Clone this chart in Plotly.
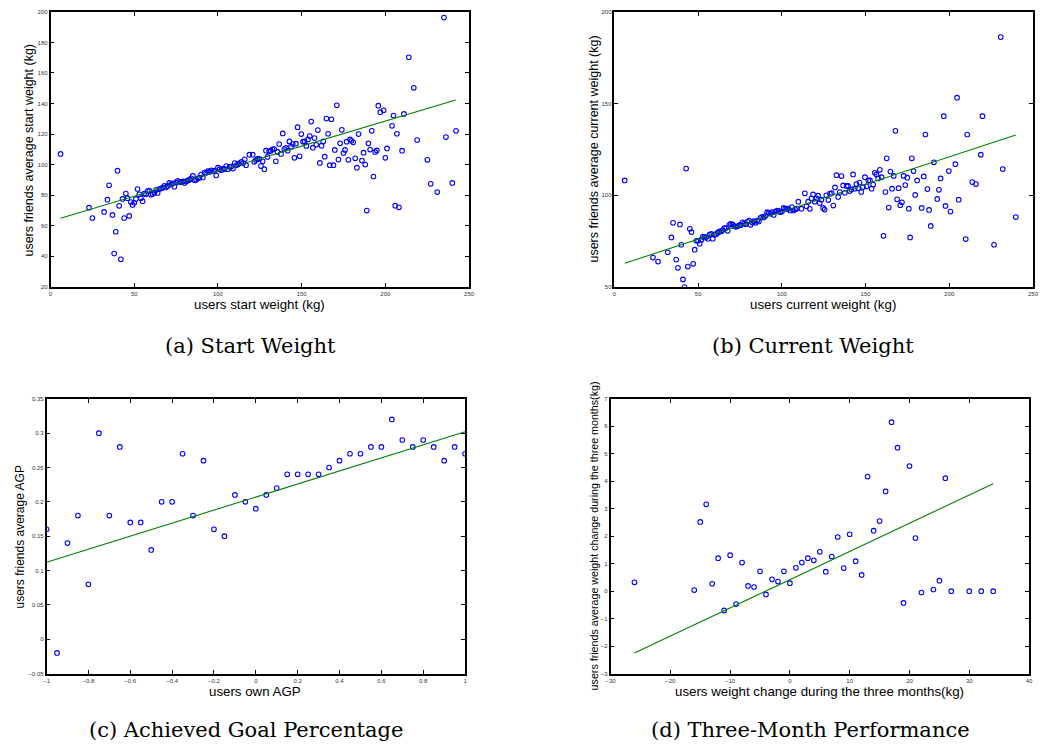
import plotly.graph_objects as go

# ---------------- (a) Start Weight ----------------
start_x = [6, 23, 25, 32, 34, 35, 37, 38, 39, 40, 41, 42, 43, 44, 45, 46, 47, 48, 49, 50,
           51, 52, 53, 54, 55, 56, 57, 58, 59, 60, 61, 62, 63, 64, 65, 66, 67, 68, 69, 70,
           71, 72, 73, 74, 75, 76, 77, 78, 79, 80, 81, 82, 83, 84, 85, 86, 87, 88, 89, 90,
           91, 92, 93, 94, 95, 96, 97, 98, 99, 100, 101, 102, 103, 104, 105, 106, 107, 108, 109, 110,
           111, 112, 113, 114, 115, 116, 116.8, 118.8, 120.8, 121.7, 122.7, 123.7, 124.7, 125.7, 126.7, 127.7,
           128.7, 129.6, 130.6, 131.6, 132.6, 133.6, 134.6, 135.6, 136.6, 137.7, 138.7, 139.7, 140.7, 141.7,
           142.7, 143.7, 144.7, 145.7, 146.6, 147.6, 148.8, 149.8, 150.8, 151.8, 152.8, 153.8, 154.8, 155.7,
           156.7, 157.7, 158.7, 159.7, 160.9, 161.9, 162.9, 163.8, 164.8, 165.8, 166.8, 167.8, 169, 169.8,
           171, 172, 173, 174, 175, 175.9, 176.9, 177.9, 178.9, 179.8, 180.8, 182, 183, 184, 186, 187, 188,
           188.9, 189.9, 190.9, 191.9, 192.9, 193.9, 194.9, 195.8, 197, 199, 200, 201, 204, 204.9, 205.9,
           206.9, 208.1, 210, 211.1, 214, 217, 219, 225.1, 227.1, 231, 235, 236.2, 240, 242.2]
start_y = [107, 71.8, 65, 69, 77, 86.4, 67, 41.7, 56, 96, 73, 38, 77.5, 65, 81, 78, 66.4, 75.5, 73.6, 75,
           77.5, 84, 80.5, 78, 76, 81, 80.7, 82.7, 83, 80.3, 80.7, 81.6, 83.3, 81.4, 84, 84.4, 84.8, 86, 85, 86,
           88, 87, 87.7, 85.5, 88.3, 89.4, 88.7, 88.5, 89, 88, 89, 89.6, 90, 91, 92.6, 89.8, 90, 91, 91.3, 93.5,
           91.6, 94.8, 94.6, 95.7, 95.2, 96.3, 95.9, 96, 92.9, 98, 97, 96.3, 97.4, 97, 99, 97, 98.5, 98.7, 97.4, 101,
           99.5, 100.3, 101, 101.8, 101, 103.5, 99.6, 106.5, 106.5, 101.8, 103, 103.7, 103.7, 99, 102.2, 97,
           109.1, 105, 108.7, 109.1, 110, 110.2, 102.2, 108.3, 113.5, 107, 120.4, 110.2, 110.9, 109.1,
           115.2, 111.7, 113.5, 104.4, 113.7, 124.5, 105.4, 120, 115, 115.2, 112.2, 116.5, 118.7, 128.2,
           111.1, 117.4, 113, 122.6, 101.1, 112.4, 115.2, 105.2, 130.2, 120.2, 99.6, 129.7, 99.6, 109.6,
           138.8, 103.3, 113.9, 122.8, 107.6, 109.6, 115, 103.1, 116.5, 115.6, 114.6, 104.1, 98, 120, 102.6, 107.8, 100,
           69.9, 113.9, 109.8, 122.1, 92.2, 108.3, 109.3, 138.6, 134.3, 135.6, 104.4, 110.6, 125.4, 132.1, 73.1,
           120.2, 72, 109.1, 133.2, 170.3, 150.3, 116.1, 103.1, 87.4, 82, 196.3, 118, 88, 122.1]
fit_start_x = [6, 242]
fit_start_y = [64.9, 142.3]

# ---------------- (b) Current Weight ----------------
current_x = [6.1, 23, 26, 31.8, 34, 35, 36.9, 37.9, 39.1, 39.9, 40.9, 41.8, 42.8, 43.8, 45, 46, 47, 47.9, 48.9, 49.9,
             50.9, 51.9, 52.8, 53.8, 54.8, 55.8, 56.8, 57.8, 58.7, 59.7, 60.7, 61.7, 62.7, 63.7, 64.6, 65.6, 66.6, 67.6,
             68.6, 69.5, 70.5, 71.5, 72.5, 73.5, 74.5, 75.4, 76.4, 77.4, 78.4, 79.4, 80.4, 81.3, 82.3, 83.3, 84.3, 85.3,
             86.2, 87.2, 88.2, 89.2, 90.2, 91.2, 92.1, 93.1, 94.1, 95.1, 96.1, 97.1, 98, 99, 100, 101, 102, 103, 103.9,
             104.9, 105.9, 106.9, 107.9, 108.8,
             109.8, 111.7, 113.7, 114.7, 115.7, 116.7, 117.7, 118.6, 119.6, 120.6, 121.6, 122.6, 123.6, 124.6, 125.5,
             126.5, 127.7, 128.7, 129.7, 130.7, 131.7, 132.6, 133.6, 134.6, 135.6, 136.6, 137.6, 138.6, 139.5, 140.5,
             141.5, 142.5, 143.5, 144.5, 145.5, 146.4, 147.4, 148.4, 149.6, 150.6, 151.6, 152.6, 153.6, 154.5, 155.5,
             156.5, 157.5, 158.5, 159.5, 160.7, 161.8, 162.6, 163.8, 164.8, 165.8, 166.8, 167.8, 168.8, 169.7, 170.7,
             171.7, 172.7, 173.7, 174.9, 175.8, 176.6, 177.6, 178.6, 179.6, 180.8, 183.5, 184.7, 185.7, 186.9, 187.9,
             188.9, 190.8, 192.8, 193.8, 194.8, 196.7, 197.7, 199.7, 200.7, 203.6, 204.6, 205.6, 209.8, 210.7, 213.7,
             215.9, 218.8, 219.8, 226.7, 230.7, 231.9, 239.7]
current_y = [108, 65.9, 63.7, 68.8, 76.9, 84.9, 64.8, 60.3, 84, 72.9, 54, 49.8, 114.5, 61, 81.6, 79.8, 62.5, 70.2, 75.1, 75.1,
             73.5, 75.7, 77.3, 76.9, 77.1, 76.2, 78.4, 78.9, 76.2, 78.4, 78.7, 79.5, 80.2, 80.2, 80.9, 82, 82, 80.5,
             83.8, 84.3, 84, 83.2, 82.7, 83, 83.6, 83.6, 85.2, 84.5, 84.1, 85.6, 86.1, 83.8, 85, 85.8, 84.9, 86.1,
             85.6, 87.6, 88.1, 87.8, 88.7, 90.7, 90.3, 89.9, 90.7, 89.2, 91, 91.6, 91.4, 90.7, 91, 93, 92.6, 92.6, 92.5,
             91.6, 93.5, 91.6, 92.1, 92.6,
             96.4, 92.6, 101, 93.9, 96.4, 92.5, 98.2, 100.4, 96.4, 98.2, 99.7, 95.7, 97.5, 93, 92.1,
             99.9, 97.3, 100.8, 101.1, 94.3, 104.2, 110.9, 99, 101.7, 110.4, 105.3, 101.3, 105, 105, 102.2,
             103.1, 111.3, 103.5, 106, 103.7, 106.9, 101.7, 104.4, 109.8, 104.8, 108, 108, 103.5, 105.8, 112.2,
             111.3, 109.1, 113.8, 109.8, 77.8, 101.7, 120.1, 93.2, 112.9, 103.5, 110.5, 135.1, 97.7, 103.8, 94.5,
             96.1, 110.5, 105.5, 109.5, 92.6, 76.9, 120.1, 113.1, 100.1, 108, 93, 110.2, 133.1, 103.3, 91.9,
             83.2, 117.9, 97.9, 102.9, 109.1, 143.1, 94.1, 113.1, 91, 116.9, 153.2, 97.5, 76, 133.1, 107.1,
             106, 122.1, 143.1, 72.9, 186.3, 114.2, 88]
fit_current_x = [6.1, 239.7]
fit_current_y = [62.8, 132.8]

# ---------------- (c) Achieved Goal Percentage ----------------
agp_x = [-1, -0.95, -0.9, -0.85, -0.8, -0.75, -0.7, -0.65, -0.6, -0.55, -0.5, -0.45, -0.4, -0.35,
         -0.3, -0.25, -0.2, -0.15, -0.1, -0.05, 0, 0.05, 0.1, 0.15, 0.2, 0.25, 0.3, 0.35, 0.4, 0.45,
         0.5, 0.55, 0.6, 0.65, 0.7, 0.75, 0.8, 0.85, 0.9, 0.95, 1.0]
agp_y = [0.16, -0.02, 0.14, 0.18, 0.08, 0.30, 0.18, 0.28, 0.17, 0.17, 0.13, 0.20, 0.20, 0.27,
         0.18, 0.26, 0.16, 0.15, 0.21, 0.20, 0.19, 0.21, 0.22, 0.24, 0.24, 0.24, 0.24, 0.25, 0.26, 0.27,
         0.27, 0.28, 0.28, 0.32, 0.29, 0.28, 0.29, 0.28, 0.26, 0.28, 0.27]
fit_agp_x = [-1, 1]
fit_agp_y = [0.112, 0.302]

# ---------------- (d) Three-Month Performance ----------------
change_x = [-26, -16, -15, -14, -13, -12, -11, -10, -9, -8, -7, -6, -5, -4, -3, -2, -1, 0, 1, 2, 3, 4,
            5, 6, 7, 8, 9, 10, 11, 12, 13, 14, 15, 16, 17, 18, 19, 20, 21, 22, 24, 25, 26, 27, 30, 32, 34]
change_y = [0.32, 0.04, 2.52, 3.16, 0.27, 1.2, -0.70, 1.31, -0.47, 1.04, 0.19, 0.15, 0.72, -0.12, 0.43, 0.35,
            0.72, 0.29, 0.85, 1.04, 1.2, 1.12, 1.43, 0.71, 1.26, 1.97, 0.84, 2.07, 1.09, 0.59, 4.17, 2.2, 2.55,
            3.63, 6.15, 5.22, -0.43, 4.55, 1.93, -0.05, 0.06, 0.38, 4.11, 0.0, 0.0, 0.0, 0.0]
fit_change_x = [-26, 34]
fit_change_y = [-2.25, 3.91]

W, H = 1042, 748
BLUE = "#0000ff"
GREEN = "#008000"

panels = [
    dict(x=start_x, y=start_y, fx=fit_start_x, fy=fit_start_y,
         box=(46, 469, 9, 286), xr=[0, 250], xd=50, yr=[20, 200], yd=20),
    dict(x=current_x, y=current_y, fx=fit_current_x, fy=fit_current_y,
         box=(616, 1039, 9, 286), xr=[0, 250], xd=50, yr=[50, 200], yd=50),
    dict(x=agp_x, y=agp_y, fx=fit_agp_x, fy=fit_agp_y,
         box=(42, 465, 399, 676), xr=[-1, 1], xd=0.2, yr=[-0.05, 0.35], yd=0.05),
    dict(x=change_x, y=change_y, fx=fit_change_x, fy=fit_change_y,
         box=(612, 1035, 399, 676), xr=[-30, 40], xd=10, yr=[-3, 7], yd=1),
]

fig = go.Figure()
layout = dict(width=W, height=H, margin=dict(l=0, r=0, t=0, b=0),
              paper_bgcolor="white", plot_bgcolor="white", showlegend=False)

for i, p in enumerate(panels, start=1):
    sfx = "" if i == 1 else str(i)
    xa, ya = "x" + sfx, "y" + sfx
    fig.add_trace(go.Scatter(x=p["x"], y=p["y"], mode="markers", xaxis=xa, yaxis=ya,
                             marker=dict(symbol="circle-open", size=4.6, color=BLUE,
                                         line=dict(color=BLUE, width=1.1))))
    fig.add_trace(go.Scatter(x=p["fx"], y=p["fy"], mode="lines", xaxis=xa, yaxis=ya,
                             line=dict(color=GREEN, width=1.1)))
    l, r, t, b = p["box"]
    common = dict(showline=True, linecolor="black", linewidth=1.5, mirror="ticks",
                  ticks="inside", ticklen=4, tickwidth=1, tickcolor="black",
                  showgrid=False, zeroline=False,
                  tickfont=dict(family="Liberation Sans", size=6, color="#333"))
    layout["xaxis" + sfx] = dict(common, domain=[l / W, r / W], range=p["xr"],
                                 tick0=p["xr"][0], dtick=p["xd"], anchor=ya)
    layout["yaxis" + sfx] = dict(common, domain=[1 - b / H, 1 - t / H], range=p["yr"],
                                 tick0=p["yr"][0], dtick=p["yd"], anchor=xa)

fig.update_layout(**layout)

SANS = "Liberation Sans"
SERIF = "DejaVu Serif"
ann = []
def label(text, x, y, size, angle=0, family=SANS, xanchor="center"):
    ann.append(dict(text=text, x=x / W, y=1 - y / H, xref="paper", yref="paper",
                    showarrow=False, textangle=angle, xanchor=xanchor, yanchor="middle",
                    font=dict(family=family, size=size, color="black")))

label("users start weight (kg)", 257, 304, 13.3)
label("users friends average start weight (kg)", 24, 148, 12.5, -90)
label("users current weight (kg)", 827, 304, 13.3)
label("users friends average current weight (kg)", 595, 147, 12.5, -90)
label("users own AGP", 253, 694, 13.3)
label("users friends average AGP", 15, 538, 12, -90)
label("users weight change during the three months(kg)", 823, 694, 13.3)
label("users friends average weight change during the three months(kg)", 595, 537, 10.7, -90)

label("(a) Start Weight", 248, 346, 21, family=SERIF)
label("(b) Current Weight", 817, 346, 21, family=SERIF)
label("(c) Achieved Goal Percentage", 244, 733, 21, family=SERIF)
label("(d) Three-Month Performance", 814, 733, 21, family=SERIF)

fig.update_layout(annotations=ann)
fig.write_html("out.html")
